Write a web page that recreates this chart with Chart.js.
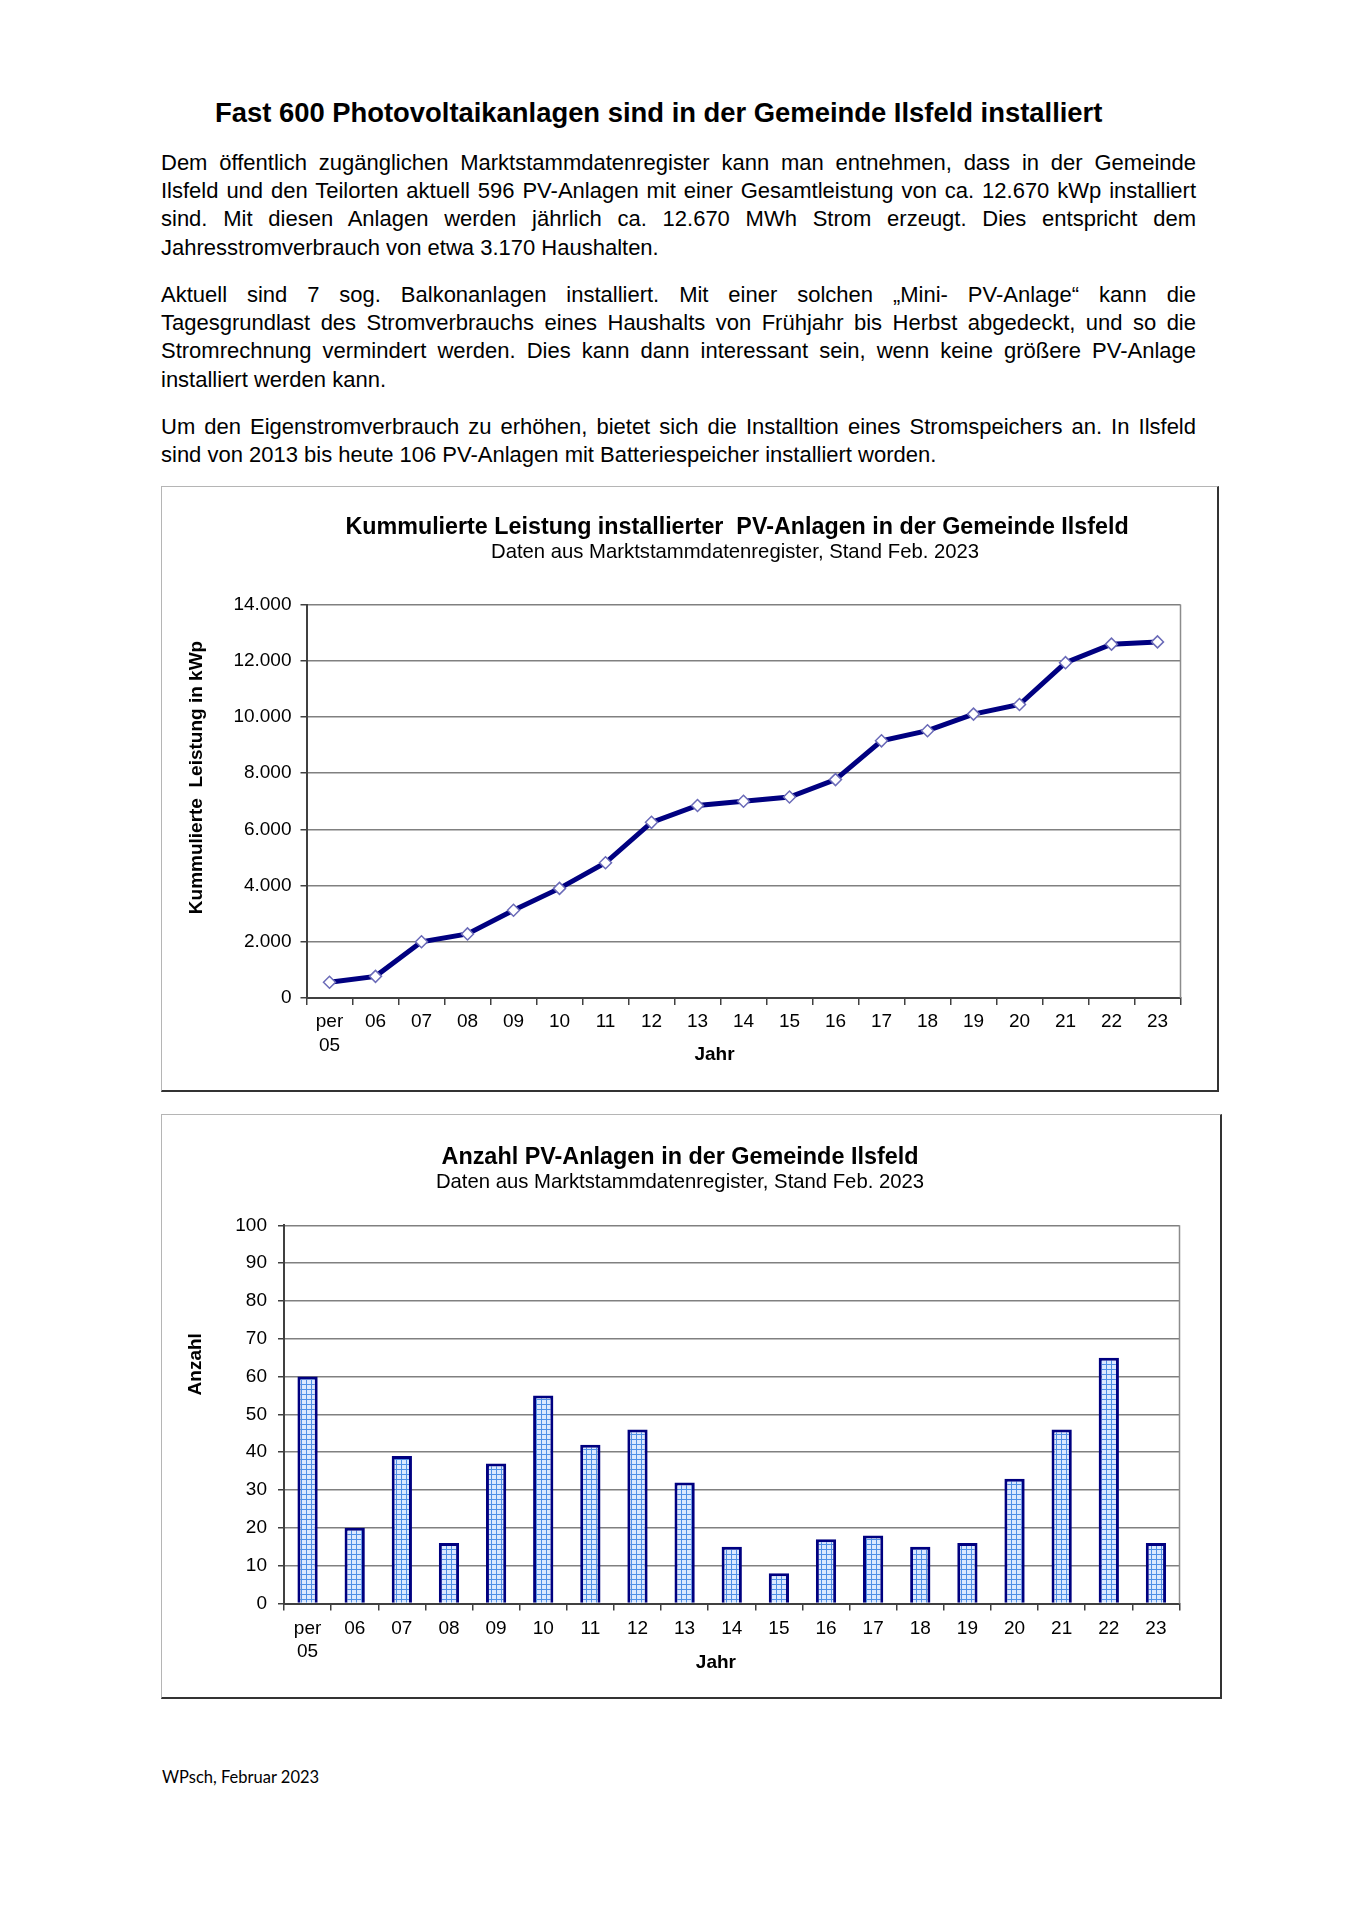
<!DOCTYPE html>
<html><head><meta charset="utf-8">
<script src="https://cdn.jsdelivr.net/npm/chart.js@4"></script>
<style>
html,body{margin:0;padding:0;background:#fff;}
body{width:1357px;height:1920px;position:relative;font-family:"Liberation Sans",Arial,sans-serif;color:#000;overflow:hidden;}
.h{position:absolute;left:215px;top:97px;font-weight:bold;font-size:27.4px;line-height:32px;white-space:nowrap;}
.p{position:absolute;left:161px;width:1035px;font-size:22px;line-height:28.45px;}
.p div{white-space:nowrap;text-align:justify;text-align-last:justify;}
.p div.l{text-align-last:left;}
.box{position:absolute;}
.box canvas{position:absolute;left:0;top:0;}
.frame{position:absolute;left:0;top:0;right:0;bottom:0;border-left:1px solid #b5b5b5;border-top:1px solid #b5b5b5;border-right:2px solid #333;border-bottom:2px solid #333;pointer-events:none;}
.foot{position:absolute;left:162px;top:1767px;font-family:Lato,"Open Sans",sans-serif;font-size:16.5px;line-height:20px;white-space:nowrap;}
</style>
</head>
<body>
<div class="h">Fast 600 Photovoltaikanlagen sind in der Gemeinde Ilsfeld installiert</div>
<div class="p" style="top:148.5px">
<div>Dem öffentlich zugänglichen Marktstammdatenregister kann man entnehmen, dass in der Gemeinde</div>
<div>Ilsfeld und den Teilorten aktuell 596 PV-Anlagen mit einer Gesamtleistung von ca. 12.670 kWp installiert</div>
<div>sind. Mit diesen Anlagen werden jährlich ca. 12.670 MWh Strom erzeugt. Dies entspricht dem</div>
<div class="l">Jahresstromverbrauch von etwa 3.170 Haushalten.</div>
</div>
<div class="p" style="top:280.5px">
<div>Aktuell sind 7 sog. Balkonanlagen installiert. Mit einer solchen „Mini- PV-Anlage“ kann die</div>
<div>Tagesgrundlast des Stromverbrauchs eines Haushalts von Frühjahr bis Herbst abgedeckt, und so die</div>
<div>Stromrechnung vermindert werden. Dies kann dann interessant sein, wenn keine größere PV-Anlage</div>
<div class="l">installiert werden kann.</div>
</div>
<div class="p" style="top:412.5px">
<div>Um den Eigenstromverbrauch zu erhöhen, bietet sich die Installtion eines Stromspeichers an. In Ilsfeld</div>
<div class="l">sind von 2013 bis heute 106 PV-Anlagen mit Batteriespeicher installiert worden.</div>
</div>

<div class="box" style="left:161px;top:486px;width:1058px;height:606px;">
<canvas id="c1" width="1058" height="606"></canvas><div class="frame"></div>
</div>
<div class="box" style="left:161px;top:1114px;width:1061px;height:585px;">
<canvas id="c2" width="1061" height="585"></canvas><div class="frame"></div>
</div>
<div class="foot">WPsch, Februar 2023</div>

<script>
// ---- data ----
const years = [["per","05"],"06","07","08","09","10","11","12","13","14","15","16","17","18","19","20","21","22","23"];
const leistungKWp = [560,770,2000,2280,3120,3900,4810,6250,6850,7000,7150,7770,9150,9510,10100,10440,11930,12590,12670];
const anzahlAnlagen = [60,20,39,16,37,55,42,46,32,15,8,17,18,15,16,33,46,65,16];
const leistungAxis = [0,14000,2000];
const anzahlAxis = [0,100,10];
const title1 = "Kummulierte Leistung installierter  PV-Anlagen in der Gemeinde Ilsfeld";
const title2 = "Anzahl PV-Anlagen in der Gemeinde Ilsfeld";
const subtitleText = "Daten aus Marktstammdatenregister, Stand Feb. 2023";
const yTitle1 = "Kummulierte  Leistung in kWp";
const yTitle2 = "Anzahl";
const xTitle = "Jahr";

// ---- helpers ----
const FONT = "'Liberation Sans', Arial, sans-serif";
Chart.defaults.font.family = FONT;
Chart.defaults.color = '#000';
function de(v){ return String(v).replace(/\B(?=(\d{3})+(?!\d))/g,'.'); }

const rightFrame = {
  id:'rightFrame',
  beforeDatasetsDraw(chart){
    const {ctx, chartArea:a} = chart;
    ctx.save(); ctx.strokeStyle='#8c8c8c'; ctx.lineWidth=1.5;
    ctx.beginPath(); ctx.moveTo(a.right, a.top); ctx.lineTo(a.right, a.bottom); ctx.stroke();
    ctx.restore();
  }
};

function yScale(range, width, text, padTop, tickPad){
  return {
    min:range[0], max:range[1],
    ticks:{stepSize:range[2], color:'#000', font:{size:19}, padding:tickPad, callback:v=>de(v)},
    grid:{color:'#808080', lineWidth:1.5, drawTicks:true, tickLength:6, tickColor:'#404040', tickWidth:1.5},
    border:{color:'#404040', width:2},
    title:{display:true, text:text, color:'#000', font:{size:19, weight:'bold', lineHeight:1.2}, padding:{top:padTop, bottom:0}},
    afterFit(s){ s.width = width; }
  };
}
function xScale(height, text, padBottom, tickPad){
  return {
    type:'category', offset:true,
    grid:{display:true, drawOnChartArea:false, drawTicks:true, tickLength:7, color:'#404040', lineWidth:1.5, offset:true},
    border:{color:'#404040', width:2},
    ticks:{color:'#000', font:{size:19, lineHeight:1.24}, padding:tickPad, maxRotation:0, autoSkip:false},
    title:{display:true, text:text, color:'#000', font:{size:19, weight:'bold', lineHeight:1.2}, padding:{top:0, bottom:padBottom}},
    afterFit(s){ s.height = height; }
  };
}

// ---- chart 1: line ----
new Chart(document.getElementById('c1'), {
  type:'line',
  data:{labels:years, datasets:[{
    data:leistungKWp, borderColor:'#000080', borderWidth:5, tension:0,
    pointStyle:'rectRot', pointRadius:6, pointBackgroundColor:'#ffffff',
    pointBorderColor:'#6b6bb8', pointBorderWidth:1.5, clip:false
  }]},
  options:{
    responsive:false, animation:false,
    layout:{padding:{left:0, right:38.5, top:0, bottom:0}},
    plugins:{
      legend:{display:false}, tooltip:{enabled:false},
      title:{display:true, text:title1 + '  ', color:'#000', fullSize:false, font:{size:23.3, weight:'bold', lineHeight:1}, padding:{top:30.4, bottom:0}},
      subtitle:{display:true, text:subtitleText + '   ', color:'#000', fullSize:false, font:{size:20.3, lineHeight:1}, padding:{top:2.8, bottom:41.7}}
    },
    scales:{
      x: xScale(94, xTitle + ' '.repeat(11), 26, 5),
      y: yScale(leistungAxis, 145.5, ' '.repeat(9) + yTitle1, 24.5, 9)
    }
  },
  plugins:[rightFrame]
});

// ---- chart 2: bars ----
const c2 = document.getElementById('c2');
function gridPattern(ctx){
  const t = document.createElement('canvas'); t.width = 5; t.height = 5;
  const g = t.getContext('2d');
  g.fillStyle = '#dbe9ff'; g.fillRect(0,0,5,5);
  g.fillStyle = '#4f90e6'; g.fillRect(0,0,5,1); g.fillRect(0,0,1,5);
  return ctx.createPattern(t, 'repeat');
}
new Chart(c2, {
  type:'bar',
  data:{labels:years, datasets:[{
    data:anzahlAnlagen, backgroundColor:gridPattern(c2.getContext('2d')),
    borderColor:'#000080', borderWidth:3, barPercentage:0.43, categoryPercentage:1
  }]},
  options:{
    responsive:false, animation:false,
    layout:{padding:{left:19.5, right:42.5, top:0, bottom:0}},
    plugins:{
      legend:{display:false}, tooltip:{enabled:false},
      title:{display:true, text:title2, color:'#000', fullSize:true, font:{size:23.4, weight:'bold', lineHeight:1}, padding:{top:32, bottom:0}},
      subtitle:{display:true, text:subtitleText, color:'#000', fullSize:true, font:{size:20.3, lineHeight:1}, padding:{top:3.1, bottom:32.5}}
    },
    scales:{
      x: xScale(95.5, xTitle + ' '.repeat(6), 24.9, 6),
      y: yScale(anzahlAxis, 103.5, ' '.repeat(19) + yTitle2, 3.6, 11)
    }
  },
  plugins:[rightFrame]
});
</script>
</body></html>
